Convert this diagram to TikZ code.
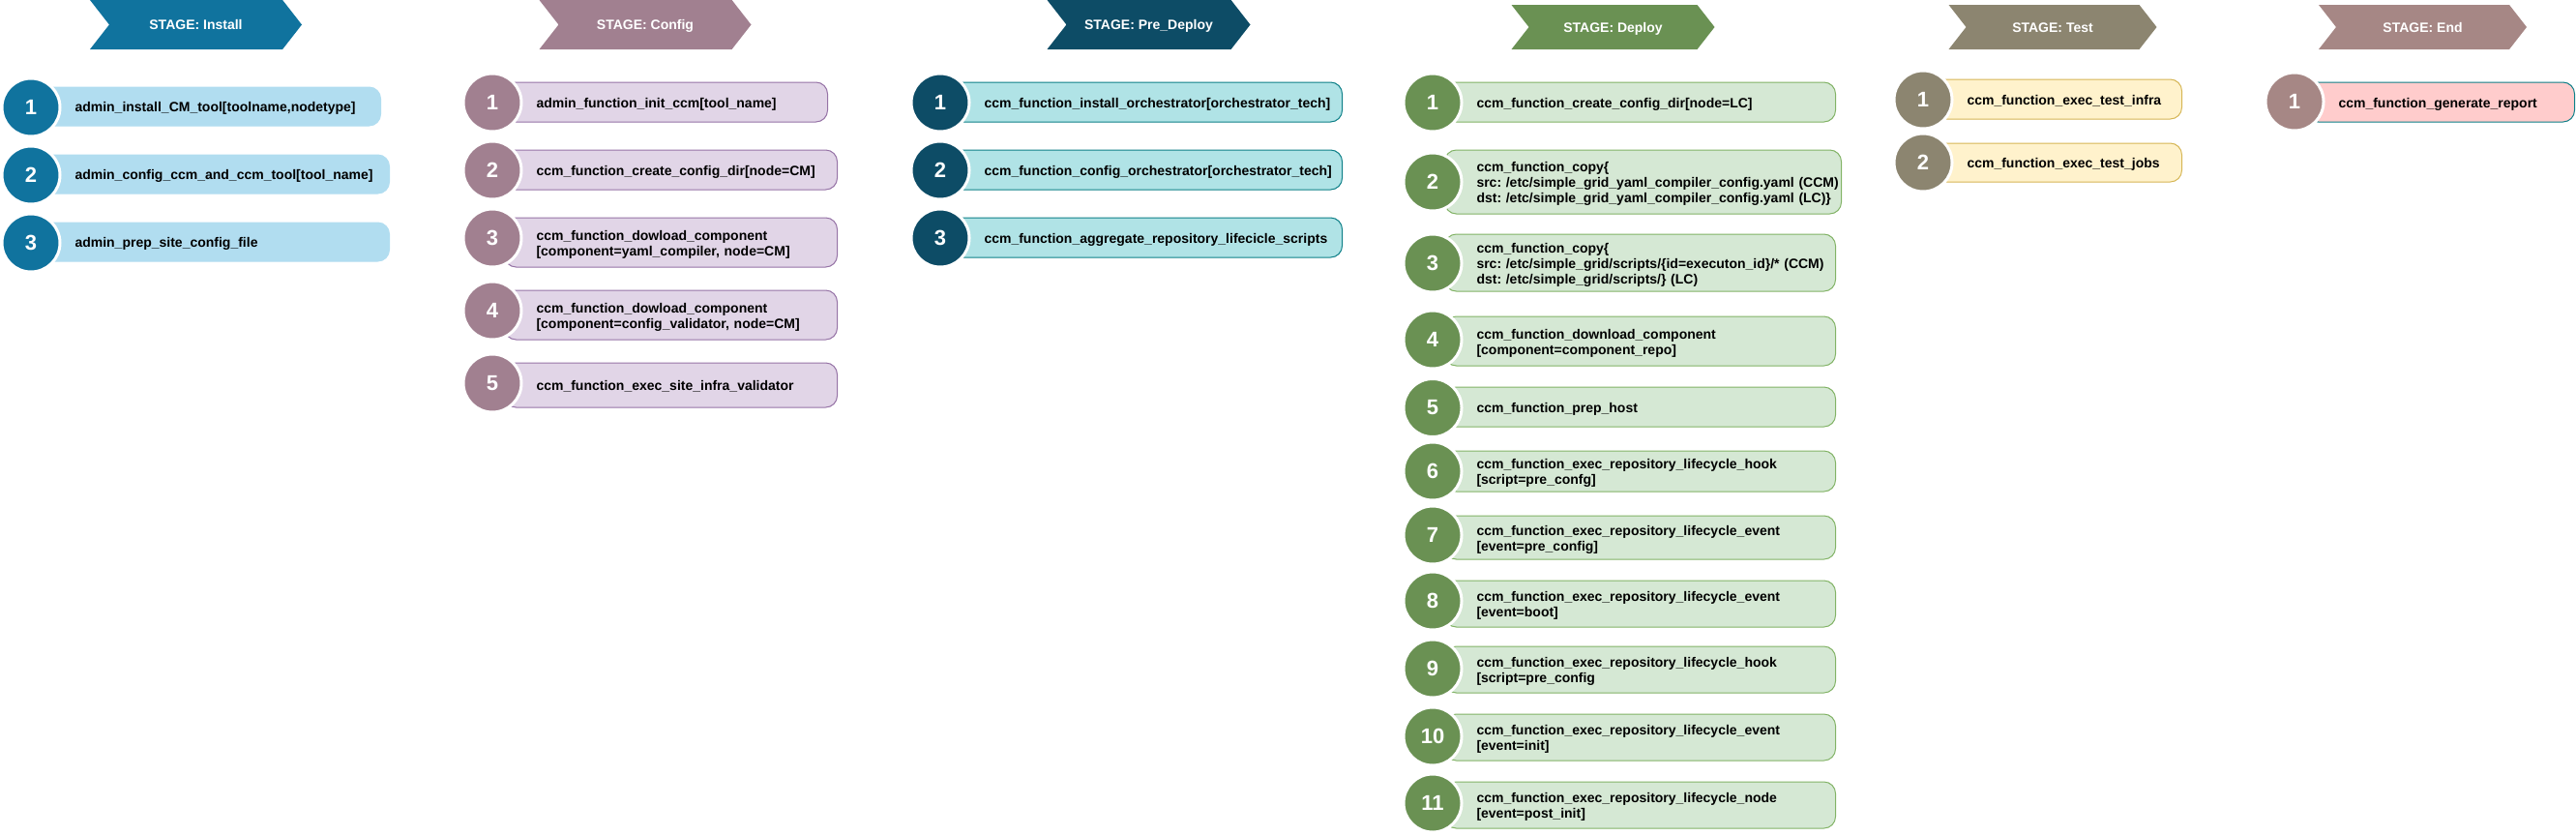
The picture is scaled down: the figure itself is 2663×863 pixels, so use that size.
\documentclass[tikz,border=0pt]{standalone}
\usepackage{fontspec}
\setmainfont{Liberation Sans}
\usetikzlibrary{positioning,shapes.symbols}
\definecolor{InstBlue}{HTML}{10739E}
\definecolor{InstLight}{HTML}{B1DDF0}
\definecolor{CfgMauve}{HTML}{A18090}
\definecolor{CfgLight}{HTML}{E1D5E7}
\definecolor{CfgLine}{HTML}{9673A6}
\definecolor{PreNavy}{HTML}{0D4C66}
\definecolor{PreLight}{HTML}{B0E3E6}
\definecolor{PreLine}{HTML}{0E8088}
\definecolor{DepGreen}{HTML}{6A9153}
\definecolor{DepLight}{HTML}{D5E8D4}
\definecolor{DepLine}{HTML}{82B366}
\definecolor{TestOlive}{HTML}{8C8570}
\definecolor{TestLight}{HTML}{FFF2CC}
\definecolor{TestLine}{HTML}{D6B656}
\definecolor{EndRose}{HTML}{A68785}
\definecolor{EndLight}{HTML}{FFCCCC}
\definecolor{EndLine}{HTML}{0E8088}

\begin{document}
\begin{tikzpicture}[x=1pt,y=-1pt,
banner/.style={signal,signal to=east,signal from=west,signal pointer angle=104,
minimum width=219pt,minimum height=51pt,inner sep=0pt,text=white,
text height=10pt,text depth=0pt,font=\fontsize{14}{16}\selectfont\bfseries},
box/.style={rectangle,rounded corners=12pt,line width=1pt,anchor=west,
inner xsep=0pt,inner ysep=0pt,align=left,minimum height=41pt,
font=\fontsize{14}{16}\selectfont\bfseries\frenchspacing,
execute at begin node={\leftskip=33pt\rule{0pt}{15pt}},
execute at end node={\rule[-3.5pt]{0pt}{3.5pt}}},
num/.style={circle,minimum size=60pt,inner sep=0pt,draw=white,line width=3pt,
text=white,font=\fontsize{22}{22}\selectfont\bfseries},
instbox/.style={box,fill=InstLight,draw=InstLight,text width=358pt},
instnum/.style={num,fill=InstBlue},
cfgbox/.style={box,fill=CfgLight,draw=CfgLine,text width=344pt},
cfgnum/.style={num,fill=CfgMauve},
prebox/.style={box,fill=PreLight,draw=PreLine,text width=403pt},
prenum/.style={num,fill=PreNavy},
depbox/.style={box,fill=DepLight,draw=DepLine,text width=404pt},
depnum/.style={num,fill=DepGreen},
testbox/.style={box,fill=TestLight,draw=TestLine,text width=255pt},
testnum/.style={num,fill=TestOlive},
endbox/.style={box,fill=EndLight,draw=EndLine,text width=277pt},
endnum/.style={num,fill=EndRose}
]
\useasboundingbox (0,0) rectangle (2663,863);

\node[banner,fill=InstBlue] (inst) at (202.5,25.5) {STAGE: Install};
\node[banner,fill=CfgMauve] (cfg) at (667,25.5) {STAGE: Config};
\node[banner,fill=PreNavy,minimum width=210pt] (pre) at (1187.5,25.5) {STAGE: Pre\_Deploy};
\node[banner,fill=DepGreen,minimum width=210pt,minimum height=46pt] (dep) at (1667.5,28) {STAGE: Deploy};
\node[banner,fill=TestOlive,minimum width=215pt,minimum height=46pt] (test) at (2122,28) {STAGE: Test};
\node[banner,fill=EndRose,minimum width=215pt,minimum height=46pt] (end) at (2504.5,28) {STAGE: End};

\node[instbox,text width=349pt,minimum height=40pt] (inst1) at (44,110) {admin\_install\_CM\_tool[toolname,nodetype]};
\node[instbox,minimum height=40pt] (inst2) at (44,180) {admin\_config\_ccm\_and\_ccm\_tool[tool\_name]};
\node[instbox,minimum height=40pt] (inst3) at (44,250) {admin\_prep\_site\_config\_file};
\node[instnum] (inst1n) at (32,111) {1};
\node[instnum] (inst2n) at (32,181) {2};
\node[instnum] (inst3n) at (32,251) {3};

\node[cfgbox,text width=334pt] (cfg1) at (521,105.5) {admin\_function\_init\_ccm[tool\_name]};
\node[cfgbox] (cfg2) at (521,175.5) {ccm\_function\_create\_config\_dir[node=CM]};
\node[cfgbox,minimum height=51pt] (cfg3) at (521,250.5) {ccm\_function\_dowload\_component\\{}[component=yaml\_compiler, node=CM]};
\node[cfgbox,minimum height=51pt] (cfg4) at (521,325.5) {ccm\_function\_dowload\_component\\{}[component=config\_validator, node=CM]};
\node[cfgbox,minimum height=46pt] (cfg5) at (521,398) {ccm\_function\_exec\_site\_infra\_validator};
\node[cfgnum] (cfg1n) at (509,106) {1};
\node[cfgnum] (cfg2n) at (509,176) {2};
\node[cfgnum] (cfg3n) at (509,246) {3};
\node[cfgnum] (cfg4n) at (509,321) {4};
\node[cfgnum] (cfg5n) at (509,396) {5};

\node[prebox] (pre1) at (984,105.5) {ccm\_function\_install\_orchestrator[orchestrator\_tech]};
\node[prebox] (pre2) at (984,175.5) {ccm\_function\_config\_orchestrator[orchestrator\_tech]};
\node[prebox] (pre3) at (984,245.5) {ccm\_function\_aggregate\_repository\_lifecicle\_scripts};
\node[prenum] (pre1n) at (972,106) {1};
\node[prenum] (pre2n) at (972,176) {2};
\node[prenum] (pre3n) at (972,246) {3};

\node[depbox] (dep1) at (1493,105.5) {ccm\_function\_create\_config\_dir[node=LC]};
\node[depbox,text width=410pt,minimum height=66pt] (dep2) at (1493,188) {ccm\_function\_copy\{\\src: /etc/simple\_grid\_yaml\_compiler\_config.yaml (CCM)\\dst: /etc/simple\_grid\_yaml\_compiler\_config.yaml (LC)\}};
\node[depbox,minimum height=59pt] (dep3) at (1493,271.5) {ccm\_function\_copy\{\\src: /etc/simple\_grid/scripts/\{id=executon\_id\}/* (CCM)\\dst: /etc/simple\_grid/scripts/\} (LC)};
\node[depbox,minimum height=51pt] (dep4) at (1493,352.5) {ccm\_function\_download\_component\\{}[component=component\_repo]};
\node[depbox] (dep5) at (1493,420.5) {ccm\_function\_prep\_host};
\node[depbox,minimum height=42pt] (dep6) at (1493,487) {ccm\_function\_exec\_repository\_lifecycle\_hook\\{}[script=pre\_confg]};
\node[depbox,minimum height=45pt] (dep7) at (1493,555.5) {ccm\_function\_exec\_repository\_lifecycle\_event\\{}[event=pre\_config]};
\node[depbox,minimum height=48pt] (dep8) at (1493,624) {ccm\_function\_exec\_repository\_lifecycle\_event\\{}[event=boot]};
\node[depbox,minimum height=48pt] (dep9) at (1493,692) {ccm\_function\_exec\_repository\_lifecycle\_hook\\{}[script=pre\_config};
\node[depbox,minimum height=48pt] (dep10) at (1493,762) {ccm\_function\_exec\_repository\_lifecycle\_event\\{}[event=init]};
\node[depbox,minimum height=48pt] (dep11) at (1493,832) {ccm\_function\_exec\_repository\_lifecycle\_node\\{}[event=post\_init]};
\node[depnum] (dep1n) at (1481,106) {1};
\node[depnum] (dep2n) at (1481,188) {2};
\node[depnum] (dep3n) at (1481,272) {3};
\node[depnum] (dep4n) at (1481,351) {4};
\node[depnum] (dep5n) at (1481,421.5) {5};
\node[depnum] (dep6n) at (1481,487) {6};
\node[depnum] (dep7n) at (1481,553) {7};
\node[depnum] (dep8n) at (1481,621) {8};
\node[depnum] (dep9n) at (1481,691) {9};
\node[depnum] (dep10n) at (1481,761) {10};
\node[depnum] (dep11n) at (1481,830) {11};

\node[testbox] (test1) at (2000,102.5) {ccm\_function\_exec\_test\_infra};
\node[testbox,minimum height=40pt] (test2) at (2000,168) {ccm\_function\_exec\_test\_jobs};
\node[testnum] (test1n) at (1988,103) {1};
\node[testnum] (test2n) at (1988,168) {2};

\node[endbox] (end1) at (2384,105.5) {ccm\_function\_generate\_report};
\node[endnum] (end1n) at (2372,105) {1};
\end{tikzpicture}
\end{document}
